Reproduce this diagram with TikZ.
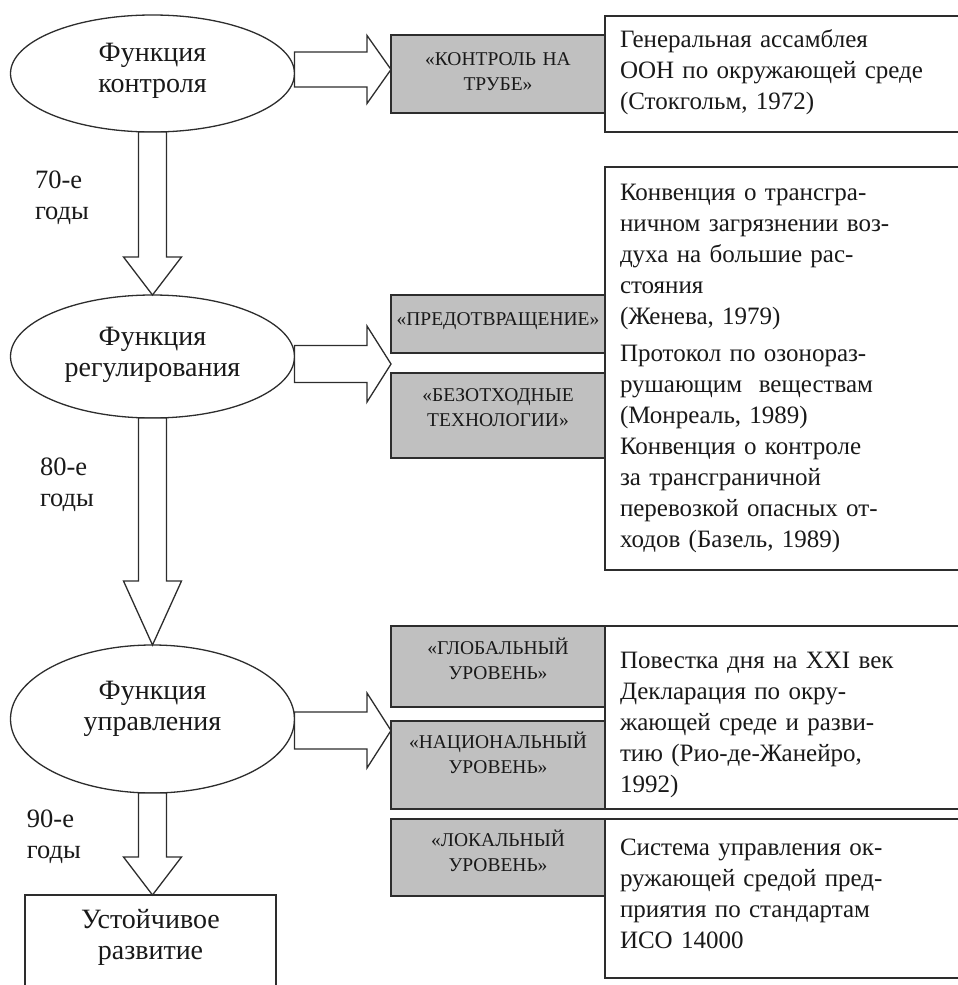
\documentclass[tikz,border=0pt]{standalone}
\usepackage{fontspec}
\setmainfont{Liberation Serif}
\usetikzlibrary{shapes.geometric,calc}
\definecolor{boxgray}{RGB}{192,192,192}
\definecolor{ink}{RGB}{25,25,25}
\definecolor{edgecol}{RGB}{45,45,45}
% right block arrow: #1 start, #2 tip, #3 shaft half width, #4 head half width, #5 head length
\newcommand{\blockR}[5]{%
  \path[blk] let \p1=(#1), \p2=(#2) in
    (\x1,\y2+#3) -- (\x2-#5,\y2+#3) -- (\x2-#5,\y2+#4) -- (\x2,\y2)
    -- (\x2-#5,\y2-#4) -- (\x2-#5,\y2-#3) -- (\x1,\y2-#3) -- cycle;}
% down block arrow
\newcommand{\blockD}[5]{%
  \path[blk] let \p1=(#1), \p2=(#2) in
    (\x1-#3,\y1) -- (\x1-#3,\y2+#5) -- (\x1-#4,\y2+#5) -- (\x1,\y2)
    -- (\x1+#4,\y2+#5) -- (\x1+#3,\y2+#5) -- (\x1+#3,\y1) -- cycle;}
\begin{document}
\begin{tikzpicture}[x=1pt,y=-1pt,
  every node/.style={inner sep=0pt,outer sep=0pt,text=ink},
  blk/.style={draw=edgecol,fill=white,line width=1.3pt,line join=miter},
  fnell/.style={ellipse,draw=edgecol,fill=white,line width=1.3pt,minimum width=284pt},
  gbox/.style={rectangle,draw=edgecol,fill=boxgray,line width=1.3pt,minimum width=214pt,anchor=north west},
  wbox/.style={rectangle,draw=edgecol,fill=white,line width=1.3pt,minimum width=380pt,anchor=north west},
  etext/.style={anchor=north,text width=260pt,align=center,font=\fontsize{28}{31}\selectfont},
  gtext/.style={anchor=north,text width=214pt,align=center,font=\fontsize{19.5}{25}\selectfont},
  wtext/.style={anchor=north west,text width=345pt,align=left,font=\fontsize{25}{31}\selectfont},
  lbl/.style={anchor=north west,text width=90pt,align=left,font=\fontsize{26.5}{31}\selectfont}
]
\path[use as bounding box] (0,0) rectangle (958,985);
\clip (0,0) rectangle (958,985);

% white boxes
\node[wbox,minimum height=116pt] (w1) at (605,16) {};
\node[wbox,minimum height=403pt] (w2) at (605,167) {};
\node[wbox,minimum height=183pt] (w3) at (605,626) {};
\node[wbox,minimum height=159pt] (w4) at (605,819) {};
\node[rectangle,draw=edgecol,fill=white,line width=1.3pt,minimum width=251pt,minimum height=130pt,anchor=north west] (s) at (25,895) {};

% gray boxes
\node[gbox,minimum height=78pt] (g1) at (391,35) {};
\node[gbox,minimum height=58pt] (g2) at (391,295) {};
\node[gbox,minimum height=85pt] (g3) at (391,373) {};
\node[gbox,minimum height=81pt] (g4) at (391,626) {};
\node[gbox,minimum height=88pt] (g5) at (391,721) {};
\node[gbox,minimum height=77pt] (g6) at (391,819) {};

% ellipses
\node[fnell,minimum height=117pt] (e1) at (152.5,73.5) {};
\node[fnell,minimum height=123pt] (e2) at (152.5,356.5) {};
\node[fnell,minimum height=148pt] (e3) at (152.5,719) {};

% block arrows
\coordinate (t1) at (391,69.5);
\coordinate (t2) at (391,364);
\coordinate (t3) at (391,730.5);
\blockR{e1.east}{t1}{17.5pt}{34pt}{24pt}
\blockR{e2.east}{t2}{18.5pt}{38pt}{24pt}
\blockR{e3.east}{t3}{18.5pt}{37.5pt}{24pt}
\blockD{e1.south}{e2.north}{14pt}{29pt}{38pt}
\blockD{e2.south}{e3.north}{14pt}{29pt}{64pt}
\blockD{e3.south}{s.north}{14pt}{29pt}{38pt}

% ellipse texts
\node[etext] (e1t) at (152.5,39.5) {\strut Функция\\контроля};
\node[etext] (e2t) at (152.5,324) {\strut Функция\\регулирования};
\node[etext] (e3t) at (152.5,677.5) {\strut Функция\\управления};
\node[etext] (st) at (150.5,906.5) {\strut Устойчивое\\развитие};

% period labels
\node[lbl] (l1) at (35,166.5) {\strut 70-е\\годы};
\node[lbl] (l2) at (40,453.5) {\strut 80-е\\годы};
\node[lbl] (l3) at (27,805.5) {\strut 90-е\\годы};

% gray texts
\node[gtext] (g1t) at (498,47.5) {\strut «КОНТРОЛЬ НА\\ТРУБЕ»};
\node[gtext] (g2t) at (498,307.5) {\strut «ПРЕДОТВРАЩЕНИЕ»};
\node[gtext] (g3t) at (498,383.5) {\strut «БЕЗОТХОДНЫЕ\\ТЕХНОЛОГИИ»};
\node[gtext] (g4t) at (498,636.5) {\strut «ГЛОБАЛЬНЫЙ\\УРОВЕНЬ»};
\node[gtext] (g5t) at (498,730.5) {\strut «НАЦИОНАЛЬНЫЙ\\УРОВЕНЬ»};
\node[gtext] (g6t) at (498,828.5) {\strut «ЛОКАЛЬНЫЙ\\УРОВЕНЬ»};

% white texts
\node[wtext] (w1t) at (620,25.3) {\strut Генеральная ассамблея\\ООН по окружающей среде\\(Стокгольм, 1972)};
\node[wtext] (w2t) at (620,179) {\strut Конвенция о трансгра-\\ничном загрязнении воз-\\духа на большие рас-\\стояния\\(Женева, 1979)\\[6pt]Протокол по озонораз-\\рушающим\ \ веществам\\(Монреаль, 1989)\\Конвенция о контроле\\за трансграничной\\перевозкой опасных от-\\ходов (Базель, 1989)};
\node[wtext] (w3t) at (620,646.3) {\strut Повестка дня на XXI век\\Декларация по окру-\\жающей среде и разви-\\тию (Рио-де-Жанейро,\\1992)};
\node[wtext] (w4t) at (620,833.3) {\strut Система управления ок-\\ружающей средой пред-\\приятия по стандартам\\ИСО 14000};
\end{tikzpicture}
\end{document}
